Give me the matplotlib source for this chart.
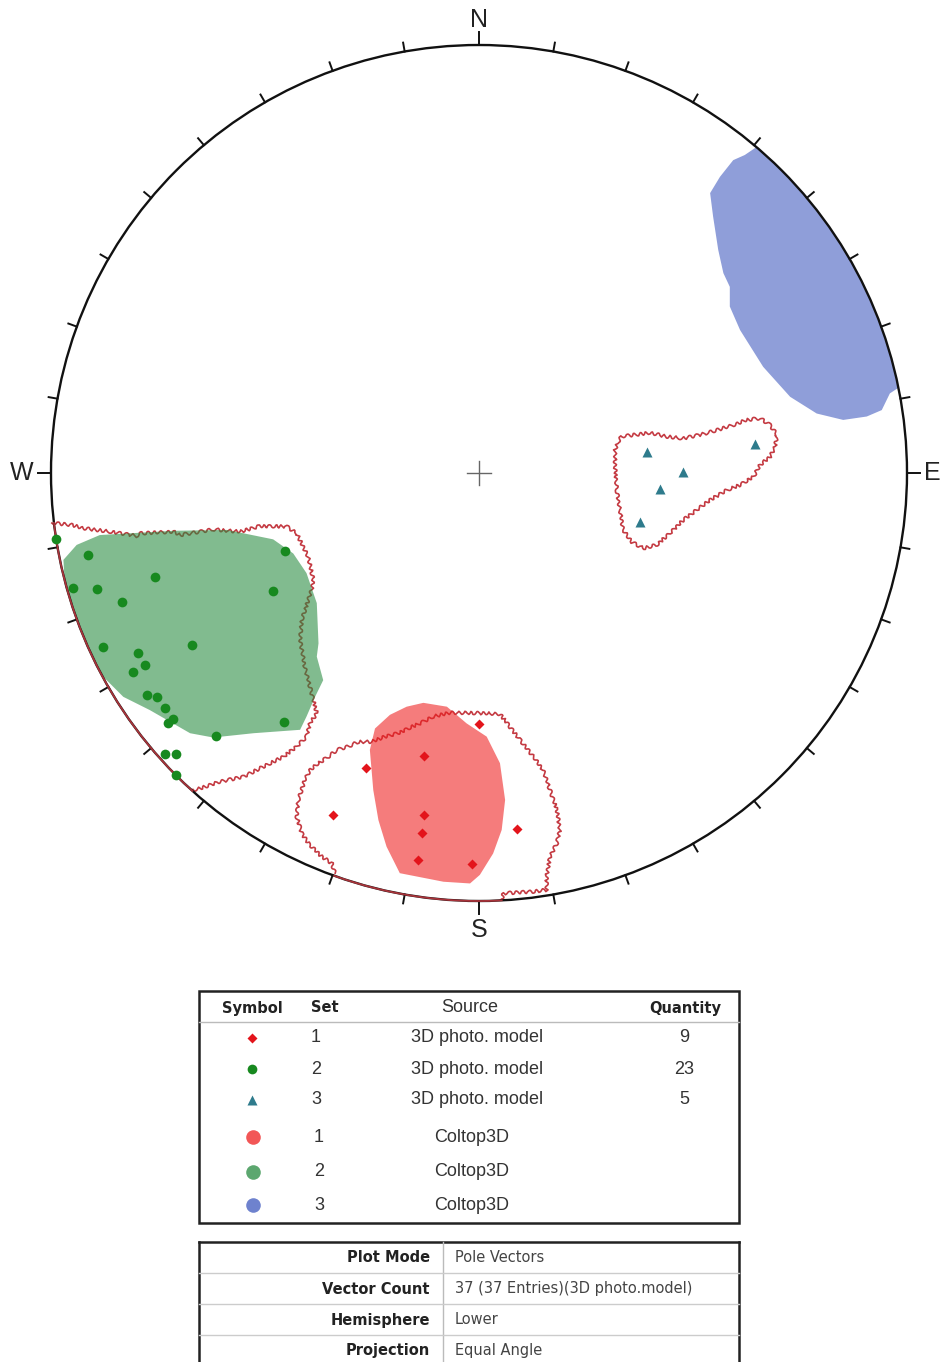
import numpy as np
import matplotlib
matplotlib.use("Agg")
import matplotlib.pyplot as plt
from matplotlib.patches import Circle, Polygon, Rectangle

# ---- poles, net coordinates (x east, y north, primitive radius = 1) ----
red_x = [0.000, -0.129, -0.265, -0.340, -0.128, -0.134, 0.088, -0.143, -0.017]
red_y = [-0.587, -0.661, -0.690, -0.799, -0.799, -0.842, -0.832, -0.904, -0.914]

green_x = [-0.988, -0.913, -0.757, -0.948, -0.893, -0.833, -0.453, -0.481, -0.671,
           -0.878, -0.796, -0.780, -0.809, -0.775, -0.752, -0.734, -0.714, -0.726,
           -0.455, -0.615, -0.734, -0.708, -0.708]
green_y = [-0.155, -0.192, -0.244, -0.269, -0.271, -0.301, -0.182, -0.275, -0.401,
           -0.406, -0.421, -0.449, -0.464, -0.519, -0.524, -0.550, -0.575, -0.585,
           -0.581, -0.614, -0.657, -0.657, -0.706]

tri_x = [0.392, 0.645, 0.477, 0.423, 0.376]
tri_y = [0.048, 0.068, 0.003, -0.037, -0.114]

# ---- Coltop3D zones (filled) ----
blue_zone_x = [0.649, 0.75, 1.12, 1.007, 0.960, 0.941, 0.906, 0.851, 0.789, 0.727,
               0.664, 0.610, 0.586, 0.586, 0.571, 0.559, 0.547, 0.540, 0.563,
               0.594, 0.621]
blue_zone_y = [0.762, 0.87, 0.40, 0.217, 0.186, 0.147, 0.132, 0.124, 0.139, 0.178,
               0.248, 0.334, 0.389, 0.435, 0.467, 0.521, 0.599, 0.654, 0.692,
               0.731, 0.743]

green_zone_x = [-0.971, -0.940, -0.886, -0.714, -0.589, -0.481, -0.434, -0.403,
                -0.379, -0.375, -0.379, -0.364, -0.383, -0.403, -0.418, -0.527,
                -0.621, -0.675, -0.769, -0.831, -0.901, -0.948, -0.967]
green_zone_y = [-0.203, -0.168, -0.145, -0.135, -0.133, -0.155, -0.188, -0.234,
                -0.304, -0.398, -0.429, -0.484, -0.523, -0.569, -0.600, -0.608,
                -0.618, -0.608, -0.554, -0.523, -0.453, -0.359, -0.273]

red_zone_x = [-0.130, -0.075, -0.029, 0.018, 0.049, 0.061, 0.053, 0.033, 0.002,
              -0.021, -0.083, -0.185, -0.216, -0.235, -0.247, -0.255, -0.243,
              -0.208, -0.169]
red_zone_y = [-0.537, -0.546, -0.585, -0.616, -0.678, -0.764, -0.834, -0.889,
              -0.939, -0.959, -0.955, -0.935, -0.873, -0.811, -0.741, -0.647,
              -0.597, -0.565, -0.546]

# ---- contour outlines around the photo-model sets ----
c_green_x = [-0.998, -0.952, -0.925, -0.862, -0.800, -0.792, -0.714, -0.699, -0.621,
             -0.558, -0.512, -0.449, -0.426, -0.411, -0.399, -0.387, -0.391, -0.414,
             -0.418, -0.407, -0.387, -0.379, -0.395, -0.403, -0.426, -0.457, -0.504,
             -0.551, -0.605, -0.652, -0.668]
c_green_y = [-0.117, -0.121, -0.129, -0.137, -0.147, -0.141, -0.137, -0.145, -0.132,
             -0.137, -0.124, -0.125, -0.141, -0.172, -0.196, -0.250, -0.273, -0.343,
             -0.390, -0.453, -0.530, -0.561, -0.585, -0.616, -0.639, -0.663, -0.686,
             -0.710, -0.721, -0.737, -0.741]

c_red_x = [-0.336, -0.344, -0.368, -0.399, -0.414, -0.426, -0.422, -0.407, -0.395,
           -0.375, -0.352, -0.332, -0.305, -0.282, -0.251, -0.220, -0.189, -0.157,
           -0.138, -0.107, -0.068, 0.002, 0.049, 0.072, 0.096, 0.127, 0.150, 0.166,
           0.182, 0.189, 0.182, 0.166, 0.158, 0.158, 0.127, 0.057, 0.053]
c_red_y = [-0.935, -0.912, -0.896, -0.865, -0.842, -0.803, -0.764, -0.717, -0.694,
           -0.678, -0.663, -0.647, -0.639, -0.628, -0.628, -0.616, -0.608, -0.593,
           -0.585, -0.569, -0.560, -0.561, -0.563, -0.593, -0.624, -0.663, -0.694,
           -0.741, -0.787, -0.834, -0.865, -0.896, -0.943, -0.974, -0.978, -0.982,
           -0.998]

c_tri_x = [0.333, 0.361, 0.400, 0.439, 0.477, 0.516, 0.555, 0.594, 0.625, 0.657,
           0.680, 0.696, 0.692, 0.680, 0.657, 0.641, 0.610, 0.579, 0.540, 0.509,
           0.477, 0.446, 0.415, 0.384, 0.357, 0.337, 0.329, 0.322, 0.318, 0.318,
           0.325]
c_tri_y = [0.085, 0.089, 0.094, 0.085, 0.081, 0.089, 0.100, 0.112, 0.124, 0.128,
           0.112, 0.089, 0.061, 0.038, 0.019, -0.009, -0.028, -0.040, -0.063, -0.086,
           -0.110, -0.141, -0.168, -0.176, -0.161, -0.133, -0.086, -0.040, 0.015,
           0.054, 0.073]

# ---- tables ----
leg_sets = ["1", "2", "3", "1", "2", "3"]
leg_sources = ["3D photo. model"] * 3 + ["Coltop3D"] * 3
info_labels = ["Plot Mode", "Vector Count", "Hemisphere", "Projection"]
info_values = ["Pole Vectors", "37 (37 Entries)(3D photo.model)", "Lower", "Equal Angle"]

# colours
RED_PT = "#e3141b"
GREEN_PT = "#17891f"
TRI_PT = "#2e7b8c"
RED_FILL = "#ee1e1e"
GREEN_FILL = "#268a3f"
BLUE_FILL = "#3e58be"
CONTOUR = "#c43a42"

W, H, DPI = 942, 1362, 100
CX, CY, R = 479, 473, 428  # pixel placement of the net

fig = plt.figure(figsize=(W / DPI, H / DPI), dpi=DPI)
ax = fig.add_axes([0, 0, 1, 1])
ax.set_xlim(-CX / R, (W - CX) / R)
ax.set_ylim((CY - H) / R, CY / R)
ax.axis("off")

prim = Circle((0, 0), 1, fill=False, lw=1.7, color="#111111", zorder=6)
ax.add_patch(prim)
clip = Circle((0, 0), 1, transform=ax.transData)

# tick marks every 10 degrees, longer at N/E/S/W
for az in range(0, 360, 10):
    a = np.radians(az)
    ln = 13 / R if az % 90 == 0 else 9 / R
    ax.plot([np.sin(a), (1 + ln) * np.sin(a)], [np.cos(a), (1 + ln) * np.cos(a)],
            color="#111111", lw=1.4, zorder=6)

lab_kw = dict(fontsize=18, family="Liberation Sans", color="#222222",
              ha="center", va="center")
ax.text(0, 1.058, "N", **lab_kw)
ax.text(0, -1.068, "S", **lab_kw)
ax.text(-1.068, 0, "W", **lab_kw)
ax.text(1.058, 0, "E", **lab_kw)

# centre cross
cr = 12 / R
ax.plot([-cr, cr], [0, 0], color="#666666", lw=1)
ax.plot([0, 0], [-cr, cr], color="#666666", lw=1)

# contour lines; those that reach the primitive are closed along it
for xs, ys, on_edge in [(c_green_x, c_green_y, True), (c_red_x, c_red_y, True),
                        (c_tri_x, c_tri_y, False)]:
    if on_edge:
        px, py = xs, ys
        a0 = np.arctan2(ys[0], xs[0])
        a1 = np.arctan2(ys[-1], xs[-1])
        arc = np.linspace(a1, a0, 40)
        ax.plot(np.cos(arc), np.sin(arc), color=CONTOUR, lw=1.3, alpha=0.85, zorder=7)
    else:
        px, py = np.r_[xs, xs[0]], np.r_[ys, ys[0]]
    line, = ax.plot(px, py, color=CONTOUR, lw=1.2, zorder=3)
    line.set_sketch_params(scale=1.6, length=7, randomness=2)

# Coltop3D zones
for xs, ys, col in [(green_zone_x, green_zone_y, GREEN_FILL),
                    (red_zone_x, red_zone_y, RED_FILL),
                    (blue_zone_x, blue_zone_y, BLUE_FILL)]:
    poly = Polygon(np.c_[xs, ys], closed=True, facecolor=col, edgecolor="none",
                   alpha=0.58, zorder=4)
    ax.add_patch(poly)
    poly.set_clip_path(clip)

# poles
ax.plot(green_x, green_y, "o", color=GREEN_PT, ms=7, mec="none", zorder=8)
ax.plot(red_x, red_y, "D", color=RED_PT, ms=5, mec="none", zorder=8)
ax.plot(tri_x, tri_y, "^", color=TRI_PT, ms=7, mec="none", zorder=8)

# ---------------- tables (pixel coordinates) ----------------
tb = fig.add_axes([0, 0, 1, 1])
tb.set_xlim(0, W)
tb.set_ylim(H, 0)
tb.axis("off")
tb.patch.set_alpha(0)

TXT = "#333333"
bold = dict(family="DejaVu Sans", fontweight="bold", fontsize=10.5, color="#222222",
            va="center")
body = dict(family="Liberation Sans", fontsize=13, color=TXT, va="center")

tb.add_patch(Rectangle((199, 991), 540, 232, fill=False, lw=1.8, ec="#222222"))
tb.plot([199, 739], [1022, 1022], color="#bbbbbb", lw=1)
tb.text(252, 1008, "Symbol", ha="center", **bold)
tb.text(325, 1008, "Set", ha="center", **bold)
tb.text(470, 1008, "Source", ha="center", **body)
tb.text(685, 1008, "Quantity", ha="center", **bold)

row_y = [1038, 1069, 1100, 1137, 1172, 1205]
quantities = [len(red_x), len(green_x), len(tri_x), "", "", ""]
tb.plot(252, row_y[0], "D", color=RED_PT, ms=5, mec="none")
tb.plot(252, row_y[1], "o", color=GREEN_PT, ms=7, mec="none")
tb.plot(252, row_y[2], "^", color=TRI_PT, ms=7, mec="none")
tb.plot(253, row_y[3], "o", color=RED_FILL, alpha=0.75, ms=10.5, mec="none")
tb.plot(253, row_y[4], "o", color=GREEN_FILL, alpha=0.75, ms=10.5, mec="none")
tb.plot(253, row_y[5], "o", color=BLUE_FILL, alpha=0.75, ms=10.5, mec="none")
for i, y in enumerate(row_y):
    sx = 316 if i < 3 else 319
    srcx = 477 if i < 3 else 472
    tb.text(sx, y, leg_sets[i], ha="center", **body)
    tb.text(srcx, y, leg_sources[i], ha="center", **body)
    tb.text(684, y, str(quantities[i]), ha="center", **body)

# info table (runs off the bottom edge)
tb.plot([199, 739], [1242, 1242], color="#222222", lw=1.8)
tb.plot([199, 199], [1242, H], color="#222222", lw=1.8)
tb.plot([739, 739], [1242, H], color="#222222", lw=1.8)
tb.plot([443, 443], [1242, H], color="#bbbbbb", lw=1)
for y in [1273, 1304, 1335]:
    tb.plot([199, 739], [y, y], color="#cccccc", lw=1)
val = dict(family="DejaVu Sans", fontsize=10.5, color="#444444", va="center")
for i, y in enumerate([1258, 1289, 1320, 1351]):
    tb.text(430, y, info_labels[i], ha="right", **bold)
    tb.text(455, y, info_values[i], ha="left", **val)

fig.savefig("out.png", dpi=DPI, facecolor="white")
